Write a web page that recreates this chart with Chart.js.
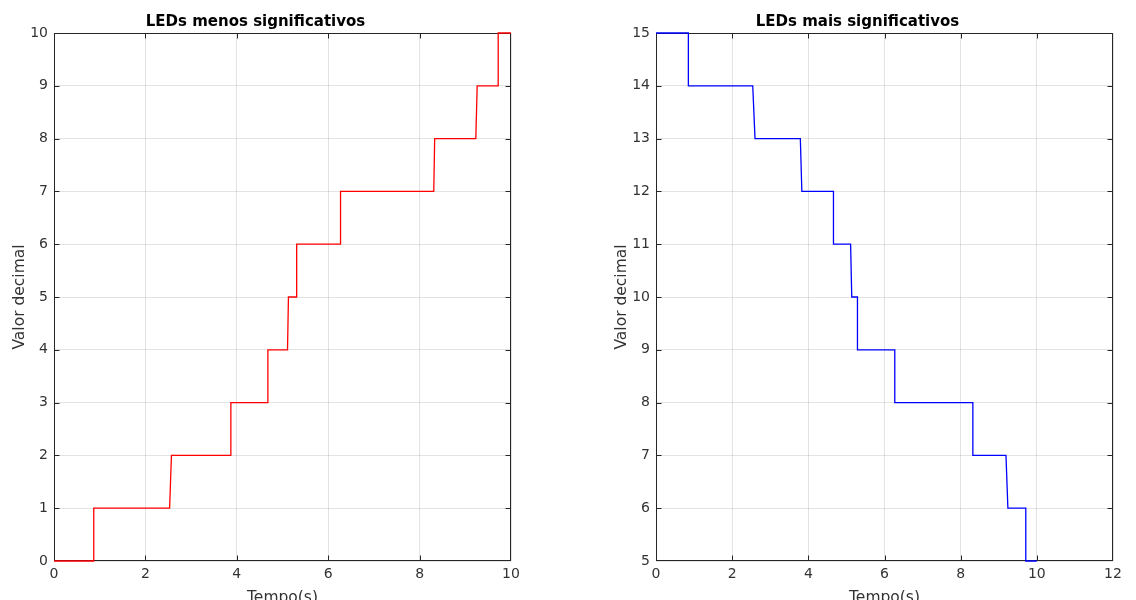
<!DOCTYPE html>
<html>
<head>
<meta charset="utf-8">
<script src="https://cdn.jsdelivr.net/npm/chart.js@4/dist/chart.umd.min.js"></script>
<style>
    html, body { margin: 0; padding: 0; background: #fff; overflow: hidden; width: 1136px; height: 600px; }
    .panel { position: absolute; top: 0; }
    #panelLow { left: 0; }
    #panelHigh { left: 602px; }
</style>
</head>
<body>
<div class="panel" id="panelLow"><canvas id="chartLow" width="568" height="610"></canvas></div>
<div class="panel" id="panelHigh"><canvas id="chartHigh" width="534" height="610"></canvas></div>
<script>
// LEDs menos significativos - níveis e instantes de troca (s)
const lowLevels = [0, 1, 2, 3, 4, 5, 6, 7, 8, 9, 10];
const lowSwitchStart = [0.87, 2.53, 3.86, 4.67, 5.11, 5.31, 6.27, 8.31, 9.23, 9.72];
const lowSwitchEnd = [0.87, 2.57, 3.87, 4.68, 5.13, 5.31, 6.27, 8.33, 9.26, 9.72];
const lowEndTime = 10;

// LEDs mais significativos
const highLevels = [15, 14, 13, 12, 11, 10, 9, 8, 7, 6, 5];
const highSwitchStart = [0.85, 2.54, 3.79, 4.66, 5.11, 5.29, 6.27, 8.32, 9.19, 9.71];
const highSwitchEnd = [0.85, 2.60, 3.83, 4.66, 5.14, 5.29, 6.27, 8.32, 9.24, 9.71];
const highEndTime = 10;

// eixos
const lowXTicks = [0, 2, 4, 6, 8, 10];
const lowYTicks = [0, 1, 2, 3, 4, 5, 6, 7, 8, 9, 10];
const highXTicks = [0, 2, 4, 6, 8, 10, 12];
const highYTicks = [5, 6, 7, 8, 9, 10, 11, 12, 13, 14, 15];

const axisColor = '#262626';
const textColor = '#333333';
const gridColor = 'rgba(38, 38, 38, 0.13)';
const fontFamily = '"DejaVu Sans", sans-serif';

// monta a escada a partir dos níveis e das trocas
function buildSteps(levels, starts, ends, endTime) {
    const pts = [{ x: 0, y: levels[0] }];
    for (let i = 0; i < starts.length; i++) {
        pts.push({ x: starts[i], y: levels[i] });
        pts.push({ x: ends[i], y: levels[i + 1] });
    }
    pts.push({ x: endTime, y: levels[levels.length - 1] });
    return pts;
}

// caixa + ticks para dentro (estilo MATLAB)
const boxPlugin = {
    id: 'matlabBox',
    beforeDatasetsDraw(chart) {
        const { ctx, chartArea: a, scales: { x, y } } = chart;
        const len = 5;
        ctx.save();
        ctx.strokeStyle = axisColor;
        ctx.lineWidth = 1;
        const l = Math.round(a.left) + 0.5, r = Math.round(a.right) - 0.5;
        const t = Math.round(a.top) + 0.5, b = Math.round(a.bottom) - 0.5;
        ctx.strokeRect(l, t, r - l, b - t);
        ctx.beginPath();
        x.ticks.forEach(tk => {
            const px = Math.min(r, Math.round(x.getPixelForValue(tk.value)) + 0.5);
            ctx.moveTo(px, b); ctx.lineTo(px, b - len);
            ctx.moveTo(px, t); ctx.lineTo(px, t + len);
        });
        y.ticks.forEach(tk => {
            const py = Math.min(b, Math.round(y.getPixelForValue(tk.value)) + 0.5);
            ctx.moveTo(l, py); ctx.lineTo(l + len, py);
            ctx.moveTo(r, py); ctx.lineTo(r - len, py);
        });
        ctx.stroke();
        ctx.restore();
    }
};

function makeChart(canvasId, title, color, points, xTicks, yTicks, rightPad) {
    const ctx = document.getElementById(canvasId).getContext('2d');
    return new Chart(ctx, {
        type: 'line',
        data: {
            datasets: [{
                data: points,
                borderColor: color,
                borderWidth: 1.3,
                pointRadius: 0,
                tension: 0,
                fill: false,
                clip: 2
            }]
        },
        options: {
            responsive: false,
            animation: false,
            layout: { padding: { left: 0, right: rightPad, top: 0, bottom: 0 } },
            plugins: {
                legend: { display: false },
                tooltip: { enabled: false },
                title: {
                    display: true,
                    text: title,
                    color: '#000',
                    font: { family: fontFamily, size: 15, weight: 'bold', lineHeight: 1.2 },
                    padding: { top: 13, bottom: 2 }
                }
            },
            scales: {
                x: {
                    type: 'linear',
                    min: xTicks[0],
                    max: xTicks[xTicks.length - 1],
                    afterBuildTicks: s => { s.ticks = xTicks.map(v => ({ value: v })); },
                    afterFit: s => { s.height = 49; },
                    grid: { color: gridColor, drawTicks: false },
                    border: { display: false },
                    ticks: { color: textColor, padding: 5, maxRotation: 0, font: { family: fontFamily, size: 14 } },
                    title: {
                        display: true,
                        text: 'Tempo(s)',
                        color: textColor,
                        font: { family: fontFamily, size: 15.5, lineHeight: 1.2 },
                        padding: { top: 0, bottom: 2.7 }
                    }
                },
                y: {
                    min: yTicks[0],
                    max: yTicks[yTicks.length - 1],
                    afterBuildTicks: s => { s.ticks = yTicks.map(v => ({ value: v })); },
                    afterFit: s => { s.width = 54; },
                    grid: { color: gridColor, drawTicks: false },
                    border: { display: false },
                    ticks: { color: textColor, padding: 6, font: { family: fontFamily, size: 14 } },
                    title: {
                        display: true,
                        text: 'Valor decimal',
                        color: textColor,
                        font: { family: fontFamily, size: 15.5, lineHeight: 1.2 },
                        padding: { top: 10.5, bottom: 0 }
                    }
                }
            }
        },
        plugins: [boxPlugin]
    });
}

makeChart('chartLow', 'LEDs menos significativos', '#ff0000',
    buildSteps(lowLevels, lowSwitchStart, lowSwitchEnd, lowEndTime), lowXTicks, lowYTicks, 57);
makeChart('chartHigh', 'LEDs mais significativos', '#0000ff',
    buildSteps(highLevels, highSwitchStart, highSwitchEnd, highEndTime), highXTicks, highYTicks, 23);
</script>
</body>
</html>
